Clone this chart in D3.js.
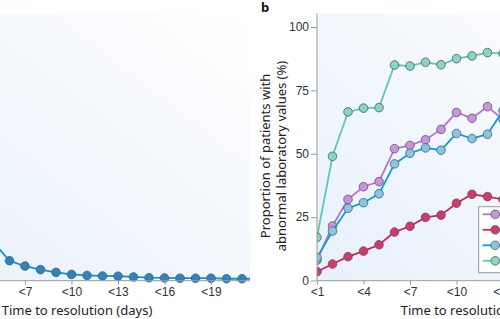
<!DOCTYPE html>
<html>
<head>
<meta charset="utf-8">
<script src="https://cdn.jsdelivr.net/npm/d3@7/dist/d3.min.js"></script>
<style>
  html, body { margin: 0; padding: 0; background: #fff; }
  svg { display: block; font-family: "Noto Sans", "Open Sans", sans-serif; }
</style>
</head>
<body>
<div id="chart"></div>
<script>
// panel a: only the tail of the curve is in frame
const daysA = [5, 6, 7, 8, 9, 10, 11, 12, 13, 14, 15, 16, 17, 18, 19, 20, 21, 22];
const valuesA = [14.8, 7.8, 5.7, 4.3, 3.2, 2.4, 2.0, 1.8, 1.7, 1.4, 1.1, 1.0, 0.9, 0.9, 0.9, 0.7, 0.7, 0.7];
const ticksA = [7, 10, 13, 16, 19];

// panel b
const daysB = [1, 2, 3, 4, 5, 6, 7, 8, 9, 10, 11, 12, 13];
const tealB = [17, 49, 66.5, 68, 68.2, 85, 84.6, 86.1, 85.1, 87.5, 88.6, 89.9, 89.5];
const purpleB = [8, 21.5, 32, 37, 39, 52, 53.3, 55.5, 59.6, 66.3, 64, 68.6, 63.5];
const blueB = [9, 19.5, 28.5, 30.7, 34.2, 46, 50.2, 52.3, 51.4, 58, 56, 57.7, 67];
const redB = [3.5, 6.5, 9.4, 11.6, 14.1, 19.1, 21.4, 24.9, 25.8, 30.5, 34, 33.1, 32];
const ticksB = [1, 4, 7, 10, 13];
const ticksY = [0, 25, 50, 75, 100];

const W = 500, H = 319;
const PLOT_TOP = 13.3, AXIS_Y = 280.7;

const svg = d3.select('#chart').append('svg')
  .attr('width', W).attr('height', H)
  .attr('viewBox', `0 0 ${W} ${H}`);

const defs = svg.append('defs');
const grad = defs.append('linearGradient')
  .attr('id', 'bg-grad')
  .attr('x1', '0%').attr('y1', '100%')
  .attr('x2', '100%').attr('y2', '0%');
grad.append('stop').attr('offset', '0%').attr('stop-color', '#e7f0fb');
grad.append('stop').attr('offset', '100%').attr('stop-color', '#ffffff');

const y = d3.scaleLinear().domain([0, 100]).range([280.5, 27]);

function panel(left, right, clipId) {
  const g = svg.append('g');
  defs.append('clipPath').attr('id', clipId)
    .append('rect')
    .attr('x', left).attr('y', 0)
    .attr('width', right - left).attr('height', AXIS_Y + 6);
  g.append('rect')
    .attr('x', left).attr('y', PLOT_TOP)
    .attr('width', right - left).attr('height', AXIS_Y - PLOT_TOP)
    .attr('fill', 'url(#bg-grad)');
  return g;
}

function xAxis(g, xScale, ticks, left, right) {
  const ax = g.append('g')
    .attr('transform', `translate(0,${AXIS_Y})`)
    .call(d3.axisBottom(xScale).tickValues(ticks).tickSize(4).tickSizeOuter(0)
      .tickFormat(d => '<' + d));
  ax.select('.domain').remove();
  ax.append('line')
    .attr('x1', left).attr('x2', right)
    .attr('stroke', '#9a9a9a').attr('stroke-width', 1);
  ax.selectAll('.tick line').attr('stroke', '#9a9a9a');
  ax.selectAll('text')
    .attr('y', 7)
    .style('font-size', '12px')
    .style('fill', '#333');
  g.append('text')
    .attr('x', (left + right) / 2)
    .attr('y', 315)
    .attr('text-anchor', 'middle')
    .style('font-size', '13px')
    .style('fill', '#222')
    .text('Time to resolution (days)');
}

function series(g, xScale, days, vals, lineColor, fillColor, clipId) {
  const pts = days.map((d, i) => ({ d, v: vals[i] }));
  const s = g.append('g').attr('clip-path', `url(#${clipId})`);
  s.append('path')
    .datum(pts)
    .attr('fill', 'none')
    .attr('stroke', lineColor)
    .attr('stroke-width', 1.8)
    .attr('d', d3.line().x(p => xScale(p.d)).y(p => y(p.v)));
  s.selectAll('circle').data(pts).enter().append('circle')
    .attr('cx', p => xScale(p.d))
    .attr('cy', p => y(p.v))
    .attr('r', 4.3)
    .attr('fill', fillColor)
    .attr('stroke', '#4d5a63')
    .attr('stroke-width', 0.8);
}

// ---- panel a ----
const xA = d3.scaleLinear().domain([1, 21]).range([-68, 242]);
const gA = panel(-96, 250, 'clip-a');
series(gA, xA, daysA, valuesA, '#1590cf', '#2c85c0', 'clip-a');
xAxis(gA, xA, ticksA, -96, 250);

// ---- panel b ----
const xB = d3.scaleLinear().domain([1, 21]).range([317, 627]);
const gB = panel(317, 635, 'clip-b');

series(gB, xB, daysB, tealB, '#5ec9b1', '#86d6c3', 'clip-b');
series(gB, xB, daysB, purpleB, '#b672d2', '#cc92e0', 'clip-b');
series(gB, xB, daysB, blueB, '#0d9fd2', '#86c6e6', 'clip-b');
series(gB, xB, daysB, redB, '#d2245c', '#d4376a', 'clip-b');

// y axis
const yAx = gB.append('g')
  .attr('transform', 'translate(317,0)')
  .call(d3.axisLeft(y).tickValues(ticksY).tickSize(6).tickSizeOuter(0));
yAx.select('.domain').remove();
yAx.append('line')
  .attr('y1', PLOT_TOP).attr('y2', AXIS_Y)
  .attr('stroke', '#9a9a9a');
yAx.selectAll('.tick line').attr('stroke', '#9a9a9a');
yAx.selectAll('text')
  .attr('x', -8)
  .style('font-size', '12px')
  .style('fill', '#333');

xAxis(gB, xB, ticksB, 317, 635);

// y title
const yTitle = svg.append('text')
  .attr('transform', 'translate(0,156) rotate(-90)')
  .attr('text-anchor', 'middle')
  .style('font-size', '13px')
  .style('fill', '#222');
yTitle.append('tspan').attr('x', 0).attr('y', 270).text('Proportion of patients with');
yTitle.append('tspan').attr('x', 0).attr('y', 286).text('abnormal laboratory values (%)');

// panel letter
svg.append('text')
  .attr('x', 261).attr('y', 12)
  .style('font-size', '13px')
  .style('font-weight', 'bold')
  .style('fill', '#111')
  .text('b');

// legend (labels fall outside the frame)
const legendColors = [
  ['#b672d2', '#cc92e0'],
  ['#d2245c', '#d4376a'],
  ['#0d9fd2', '#86c6e6'],
  ['#5ec9b1', '#86d6c3']
];
const lg = svg.append('g').attr('transform', 'translate(478.7,206.7)');
lg.append('rect')
  .attr('width', 60).attr('height', 66)
  .attr('fill', '#fff')
  .attr('stroke', '#9a9a9a')
  .attr('stroke-width', 1);
legendColors.forEach(([lc, fc], i) => {
  const yy = 7.6 + i * 15.5;
  lg.append('line')
    .attr('x1', 4).attr('x2', 28)
    .attr('y1', yy).attr('y2', yy)
    .attr('stroke', lc).attr('stroke-width', 1.8);
  lg.append('circle')
    .attr('cx', 16.5).attr('cy', yy).attr('r', 4.3)
    .attr('fill', fc).attr('stroke', '#4d5a63').attr('stroke-width', 0.8);
});
</script>
</body>
</html>
